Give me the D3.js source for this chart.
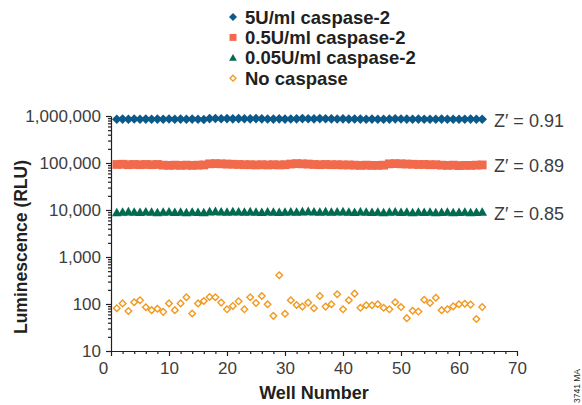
<!DOCTYPE html>
<html>
<head>
<meta charset="utf-8">
<script src="https://cdn.jsdelivr.net/npm/d3@7"></script>
<style>
  html, body { margin: 0; padding: 0; background: #fff; }
  svg { display: block; }
</style>
</head>
<body>
<svg id="chart" width="582" height="405"></svg>
<script>
// well numbers (x)
const wells = [1, 2, 3, 4, 5, 6, 7, 8, 9, 10, 11, 12, 13, 14, 15, 16,
  17, 18, 19, 20, 21, 22, 23, 24, 25, 26, 27, 28, 29, 30, 31, 32,
  33, 34, 35, 36, 37, 38, 39, 40, 41, 42, 43, 44, 45, 46, 47, 48,
  49, 50, 51, 52, 53, 54, 55, 56, 57, 58, 59, 60, 61, 62, 63, 64];

// luminescence (RLU) per well
const caspase5U = [850000, 860000, 855000, 865000, 850000, 860000, 855000, 860000,
  850000, 865000, 855000, 860000, 850000, 860000, 855000, 845000,
  880000, 885000, 875000, 880000, 870000, 880000, 875000, 870000,
  880000, 870000, 865000, 860000, 870000, 860000, 865000, 870000,
  880000, 875000, 870000, 880000, 875000, 870000, 865000, 870000,
  860000, 865000, 860000, 855000, 860000, 850000, 855000, 860000,
  870000, 865000, 860000, 855000, 860000, 850000, 855000, 850000,
  860000, 855000, 850000, 855000, 850000, 860000, 850000, 855000];
const caspase05U = [93000, 94000, 92000, 93000, 92000, 93000, 92000, 93000,
  90000, 89000, 90000, 89000, 90000, 89000, 90000, 91000,
  96000, 97000, 96000, 95000, 94000, 93000, 92000, 92000,
  91000, 92000, 91000, 92000, 91000, 92000, 95000, 97000,
  96000, 95000, 93000, 92000, 93000, 92000, 92000, 91000,
  91000, 90000, 89000, 90000, 89000, 89000, 90000, 96000,
  97000, 96000, 95000, 94000, 93000, 93000, 92000, 92000,
  90000, 89000, 90000, 88000, 89000, 89000, 90000, 91000];
const caspase005U = [8800, 9000, 9200, 9000, 8900, 9100, 9000, 8800,
  9000, 9100, 8900, 9000, 8800, 9000, 8900, 8800,
  9200, 9300, 9100, 9000, 9200, 9100, 9000, 9200,
  9000, 8900, 9100, 9000, 8900, 9000, 9100, 9000,
  9200, 9300, 9100, 9000, 9200, 9000, 9100, 9200,
  9000, 8900, 9100, 9000, 8900, 9000, 8800, 9000,
  9100, 8900, 9000, 8800, 9000, 8900, 9000, 8800,
  8900, 9000, 8800, 8900, 9000, 8800, 8900, 9000];
const noCaspase = [81, 103, 71, 109, 120, 85, 74, 79,
  68, 103, 74, 103, 139, 63, 103, 116,
  141, 139, 107, 77, 91, 114, 77, 139,
  105, 148, 99, 56, 408, 62, 120, 95,
  88, 107, 81, 148, 88, 99, 161, 77,
  120, 166, 83, 94, 94, 99, 83, 77,
  109, 86, 50, 72, 69, 123, 105, 136,
  74, 77, 89, 99, 101, 97, 48, 86];

const seriesNames = ["5U/ml caspase-2", "0.5U/ml caspase-2", "0.05U/ml caspase-2", "No caspase"];
const zPrimeLabels = ["Z\u2032 = 0.91", "Z\u2032 = 0.89", "Z\u2032 = 0.85"];
const yTicks = [10, 100, 1000, 10000, 100000, 1000000];
const xTicks = [0, 10, 20, 30, 40, 50, 60, 70];

const colors = {
  blue: "#0b5a8a",
  red: "#f26a4c",
  green: "#006b50",
  orange: "#f3981f",
  axis: "#231f20",
  label: "#3d3d3d",
};
const fontReg = "'Liberation Sans', Arial, Helvetica, sans-serif";

const svg = d3.select("#chart");
const x = d3.scaleLinear([0, 70], [111, 517]);
const y = d3.scaleLog([10, 1000000], [351, 116]);

// marker shapes
const diamond = (r) => `M0,${-r}L${r},0L0,${r}L${-r},0Z`;
const square = (r) => `M${-r},${-r}H${r}V${r}H${-r}Z`;
const triangle = (r) => `M0,${-r}L${r},${r * 0.75}L${-r},${r * 0.75}Z`;

const series = [
  { values: caspase5U, path: diamond(4.8), fill: colors.blue, stroke: "none" },
  { values: caspase05U, path: square(4.4), fill: colors.red, stroke: "none" },
  { values: caspase005U, path: triangle(4.9), fill: colors.green, stroke: "none" },
  { values: noCaspase, path: diamond(3.3), fill: "#fff", stroke: colors.orange },
];

// axes
svg.append("g")
  .attr("transform", `translate(${x(0)},0)`)
  .call(d3.axisLeft(y).tickValues(yTicks).tickFormat(d3.format(",")).tickSize(5).tickPadding(5).tickSizeOuter(0));
svg.append("g")
  .attr("transform", `translate(${x(0)},0)`)
  .call(d3.axisLeft(y).tickValues(y.ticks().filter((d) => !yTicks.includes(d))).tickFormat("").tickSize(3).tickSizeOuter(0))
  .call((g) => g.select(".domain").remove());

const xAxisG = svg.append("g")
  .attr("transform", `translate(0,${y(10)})`)
  .call(d3.axisBottom(x).tickValues(xTicks).tickSize(5).tickPadding(6).tickSizeOuter(0));
svg.append("g")
  .attr("transform", `translate(0,${y(10)})`)
  .call(d3.axisBottom(x).tickValues(d3.range(2, 70, 2).filter((d) => d % 10 !== 0)).tickFormat("").tickSize(3).tickSizeOuter(0))
  .call((g) => g.select(".domain").remove());

svg.selectAll(".domain, .tick line")
  .attr("stroke", colors.axis)
  .attr("stroke-width", 1.2);
svg.selectAll(".tick text")
  .attr("fill", colors.label)
  .attr("font-family", fontReg)
  .attr("font-size", 17);
xAxisG.selectAll(".tick text").filter((d) => d === 0).attr("dx", -8);

// axis titles
svg.append("text")
  .text("Well Number")
  .attr("x", 314)
  .attr("y", 399)
  .attr("text-anchor", "middle")
  .attr("font-family", fontReg)
  .attr("font-weight", "bold")
  .attr("font-size", 18)
  .attr("fill", colors.axis);
svg.append("text")
  .text("Luminescence (RLU)")
  .attr("transform", "translate(27,247) rotate(-90)")
  .attr("text-anchor", "middle")
  .attr("font-family", fontReg)
  .attr("font-weight", "bold")
  .attr("font-size", 17.5)
  .attr("fill", colors.axis);

// data points
series.forEach((s) => {
  svg.append("g")
    .selectAll("path")
    .data(s.values)
    .join("path")
    .attr("transform", (d, i) => `translate(${x(wells[i])},${y(d)})`)
    .attr("d", s.path)
    .attr("fill", s.fill)
    .attr("stroke", s.stroke)
    .attr("stroke-width", 1.4);
});

// Z' labels at the end of each line
svg.append("g")
  .selectAll("text")
  .data(zPrimeLabels)
  .join("text")
  .text((d) => d)
  .attr("x", 494)
  .attr("y", (d, i) => y(series[i].values[series[i].values.length - 1]) + 1)
  .attr("dy", "0.36em")
  .attr("font-family", fontReg)
  .attr("font-size", 18)
  .attr("fill", colors.label);

// legend
const legendG = svg.append("g").attr("transform", "translate(233,17)");
legendG.selectAll("g")
  .data(seriesNames)
  .join("g")
  .attr("transform", (d, i) => `translate(0,${i * 20.4})`)
  .call((g) => {
    g.append("path")
      .attr("d", (d, i) => [diamond(4), square(3.5), triangle(3.9), diamond(3)][i])
      .attr("fill", (d, i) => series[i].fill)
      .attr("stroke", (d, i) => series[i].stroke)
      .attr("stroke-width", 1.3);
    g.append("text")
      .text((d) => d)
      .attr("x", 12)
      .attr("dy", "0.36em")
      .attr("font-family", fontReg)
      .attr("font-weight", "bold")
      .attr("font-size", 18.5)
      .attr("fill", colors.axis);
  });

// figure code
svg.append("text")
  .text("3741 MA")
  .attr("transform", "translate(580,386) rotate(-90)")
  .attr("text-anchor", "middle")
  .attr("font-family", fontReg)
  .attr("font-size", 8.5)
  .attr("fill", colors.axis);
</script>
</body>
</html>
